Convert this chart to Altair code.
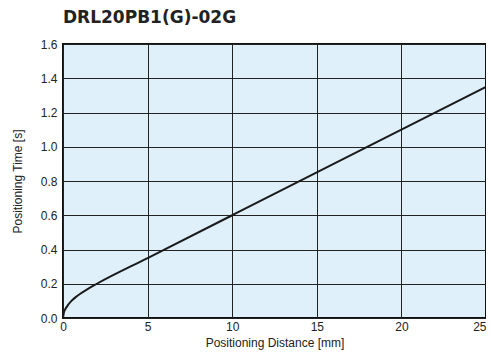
import altair as alt
import pandas as pd

# Positioning distance [mm] and positioning time [s]
distance = [0, 0.05, 0.1, 0.2, 0.3, 0.5, 0.75, 1.0, 1.5, 2.0, 5, 10, 15, 20, 25]
time_s = [0, 0.03, 0.045, 0.062, 0.077, 0.1, 0.122, 0.14, 0.172, 0.2, 0.35, 0.6, 0.85, 1.1, 1.35]

x_ticks = [0, 5, 10, 15, 20, 25]
y_ticks = [0.0, 0.2, 0.4, 0.6, 0.8, 1.0, 1.2, 1.4, 1.6]

df = pd.DataFrame({"d": distance, "t": time_s})

font = "Liberation Sans"

chart = (
    alt.Chart(df)
    .mark_line(color="#1a1a1a", strokeWidth=2, interpolate="monotone")
    .encode(
        x=alt.X(
            "d:Q",
            scale=alt.Scale(domain=[0, 25], nice=False),
            axis=alt.Axis(
                values=x_ticks,
                title="Positioning Distance [mm]",
                labelFontSize=12,
                titleFontSize=12,
                titleFontWeight="normal",
                labelFont=font,
                titleFont=font,
                labelColor="#222",
                titleColor="#222",
                ticks=False,
                labelPadding=3,
                titlePadding=5,
                domain=False,
                gridColor="#222",
                gridOpacity=1,
                gridWidth=1,
                labelFlush=False,
                labelAlign={"expr": "datum.value == 25 ? 'right' : 'center'"},
            ),
        ),
        y=alt.Y(
            "t:Q",
            scale=alt.Scale(domain=[0, 1.6], nice=False),
            axis=alt.Axis(
                values=y_ticks,
                format=".1f",
                title="Positioning Time [s]",
                labelFontSize=12,
                titleFontSize=12,
                titleFontWeight="normal",
                labelFont=font,
                titleFont=font,
                labelColor="#222",
                titleColor="#222",
                ticks=False,
                labelPadding=6,
                titlePadding=16,
                domain=False,
                gridColor="#222",
                gridOpacity=1,
                gridWidth=1,
                labelFlush=False,
            ),
        ),
    )
    .properties(
        width=423,
        height=274,
        title=alt.TitleParams(
            "DRL20PB1(G)-02G",
            anchor="start",
            frame="group",
            fontSize=17,
            fontWeight="bold",
            font="DejaVu Sans",
            color="#222",
            offset=11,
        ),
        autosize=alt.AutoSizeParams(type="none"),
        padding={"left": 55, "top": 36, "right": 0, "bottom": 34},
    )
    .configure_view(fill="#dff0fb", stroke="#111", strokeWidth=2)
)

chart.save("out.html", embed_options={"renderer": "svg", "actions": False})
